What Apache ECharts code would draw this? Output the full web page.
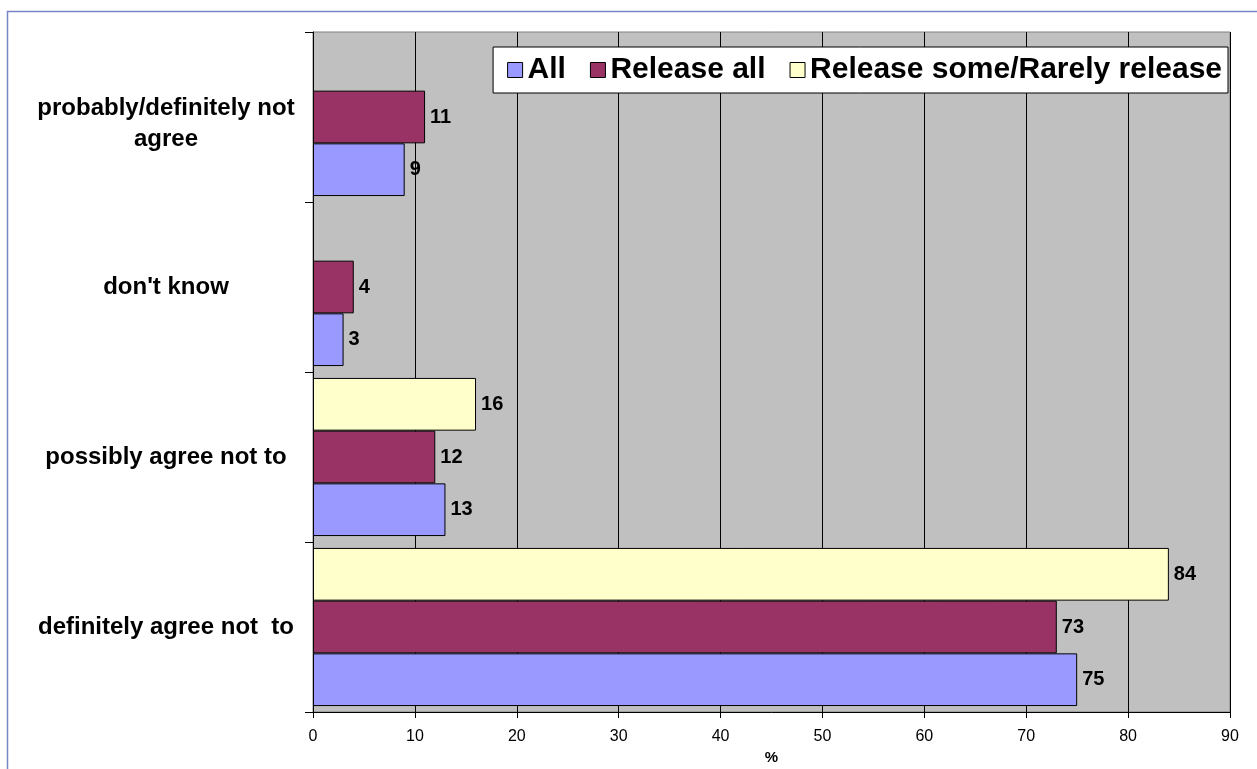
<!DOCTYPE html>
<html>
<head>
<meta charset="utf-8">
<script src="https://cdn.jsdelivr.net/npm/echarts@6/dist/echarts.min.js"></script>
<style>
html,body{margin:0;padding:0;background:#fff;}
#chart{width:1257px;height:769px;}
</style>
</head>
<body>
<div id="chart"></div>
<script>
var categories = ['definitely agree not  to', 'possibly agree not to', "don't know", 'probably/definitely not\nagree'];
var seriesNames = ['All', 'Release all', 'Release some/Rarely release'];
var valuesAll = [75, 13, 3, 9];
var valuesReleaseAll = [73, 12, 4, 11];
var valuesReleaseSome = [84, 16, null, null];
var xTicks = [0, 10, 20, 30, 40, 50, 60, 70, 80, 90];

var FONT = '"Liberation Sans", Arial, sans-serif';
var colors = ['#9999FF', '#993366', '#FFFFCC'];
var data = [valuesAll, valuesReleaseAll, valuesReleaseSome];

// series drawn in reverse so that "All" sits at the bottom of each band
var order = [2, 1, 0];

var chart = echarts.init(document.getElementById('chart'));
chart.setOption({
  animation: false,
  backgroundColor: '#fff',
  graphic: [{
    type: 'rect', z: 100, silent: true,
    shape: {x: 7.5, y: 11.5, width: 1300, height: 800},
    style: {fill: 'none', stroke: '#7785C5', lineWidth: 1.5}
  }],
  grid: {left: 313, right: 27, top: 32, bottom: 57, outerBoundsMode: 'none', containLabel: false,
    show: true, backgroundColor: '#C0C0C0', borderColor: '#808080', borderWidth: 1},
  legend: {
    right: 29, top: 47,
    data: seriesNames,
    backgroundColor: '#fff', borderColor: '#000', borderWidth: 1,
    padding: [7, 6, 7, 14],
    itemGap: 24, itemWidth: 15, itemHeight: 15,
    icon: 'rect',
    itemStyle: {borderColor: '#000', borderWidth: 1},
    textStyle: {fontFamily: FONT, fontSize: 30, fontWeight: 'bold', color: '#000', lineHeight: 32}
  },
  xAxis: {
    type: 'value', min: 0, max: 90, interval: 10,
    name: '%', nameLocation: 'middle', nameGap: 4,
    nameTextStyle: {fontFamily: FONT, fontSize: 15, fontWeight: 'bold', color: '#000'},
    axisLine: {show: true, lineStyle: {color: '#000', width: 1}},
    axisTick: {show: true, length: 6, lineStyle: {color: '#000'}},
    axisLabel: {fontFamily: FONT, fontSize: 16, color: '#000', margin: 17,
      formatter: function (v) { return xTicks.indexOf(v) >= 0 ? String(v) : ''; }},
    splitLine: {show: true, lineStyle: {color: '#000', width: 1}}
  },
  yAxis: {
    type: 'category', data: categories,
    axisLine: {show: true, lineStyle: {color: '#000', width: 1}},
    axisTick: {show: true, length: 8, lineStyle: {color: '#000'}},
    axisLabel: {fontFamily: FONT, fontSize: 24, fontWeight: 'bold', color: '#000', align: 'center', margin: 147,
      formatter: function (v) {
        return v.indexOf('\n') >= 0 ? '{m|' + v.split('\n').join('}\n{m|') + '}' : v;
      },
      rich: {m: {fontFamily: FONT, fontSize: 24, fontWeight: 'bold', color: '#000', lineHeight: 31, padding: [14, 0, 0, 0], align: 'center'}}
    },
    splitLine: {show: false}
  },
  series: order.map(function (i) {
    return {
      name: seriesNames[i], type: 'bar', data: data[i],
      barGap: '0%', barCategoryGap: '7%',
      itemStyle: {color: colors[i], borderColor: '#000', borderWidth: 1},
      label: {show: true, position: 'right', distance: 5, fontFamily: FONT, fontSize: 20, fontWeight: 'bold', color: '#000'}
    };
  })
});
</script>
</body>
</html>
